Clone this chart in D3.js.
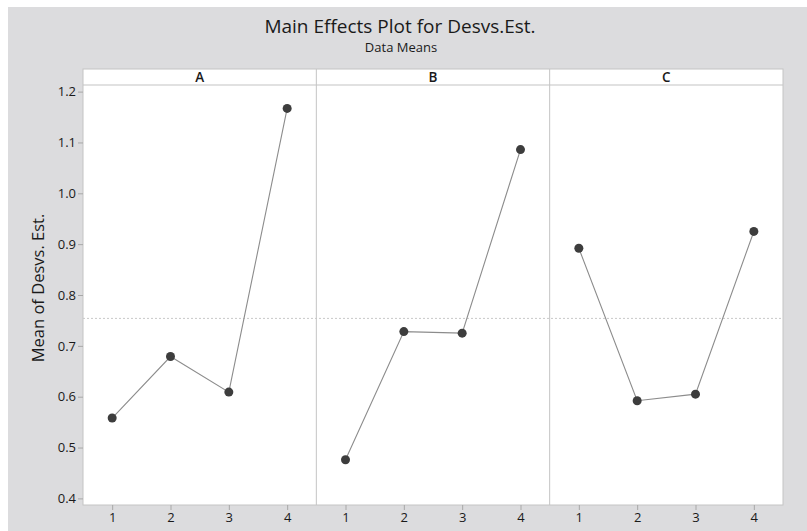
<!DOCTYPE html>
<html>
<head>
<meta charset="utf-8">
<script src="https://cdn.jsdelivr.net/npm/d3@7"></script>
<style>
  body { margin: 0; background: #fff; }
  text { font-family: "Open Sans", "DejaVu Sans", sans-serif; fill: #1a1a1a; }
</style>
</head>
<body>
<script>
// factors and their level means
var factors = ["A", "B", "C"];
var levels = [1, 2, 3, 4];
var meansA = [0.558, 0.679, 0.609, 1.167];
var meansB = [0.476, 0.728, 0.725, 1.086];
var meansC = [0.892, 0.592, 0.605, 0.925];
var yTicks = [0.4, 0.5, 0.6, 0.7, 0.8, 0.9, 1.0, 1.1, 1.2];
var grandMean = 0.754;

var allMeans = [meansA, meansB, meansC];

var W = 807, H = 531;
// note: "top" is taken by window.top, so plotTop
var plotLeft = 83, plotRight = 783, stripTop = 69, plotTop = 85, plotBottom = 505;
var panelW = (plotRight - plotLeft) / factors.length;

var svg = d3.select("body").append("svg").attr("width", W).attr("height", H);

// gray background with a thin white border on top/left
svg.append("rect").attr("x", 8).attr("y", 7).attr("width", W - 8).attr("height", H - 7).attr("fill", "#dcdcde");

// titles
svg.append("text")
    .attr("x", 400).attr("y", 33)
    .attr("text-anchor", "middle")
    .attr("font-size", 19)
    .text("Main Effects Plot for Desvs.Est.");
svg.append("text")
    .attr("x", 401).attr("y", 52)
    .attr("text-anchor", "middle")
    .attr("font-size", 13)
    .text("Data Means");

var y = d3.scaleLinear().domain([0.387, 1.213]).range([plotBottom, plotTop]);

// panel area (strip + plot)
svg.append("rect")
    .attr("x", plotLeft).attr("y", stripTop)
    .attr("width", plotRight - plotLeft).attr("height", plotBottom - stripTop)
    .attr("fill", "#fff").attr("stroke", "#c4c4c4").attr("stroke-width", 1);

svg.append("line")
    .attr("x1", plotLeft).attr("x2", plotRight)
    .attr("y1", plotTop).attr("y2", plotTop)
    .attr("stroke", "#c4c4c4").attr("stroke-width", 1.2);

// y axis
var yAxis = d3.axisLeft(y).tickValues(yTicks).tickSize(5).tickFormat(d3.format(".1f"));
var gy = svg.append("g").attr("transform", "translate(" + plotLeft + ",0)").call(yAxis);
gy.select(".domain").remove();
gy.selectAll(".tick line").attr("stroke", "#a8a8a8");
gy.selectAll(".tick text")
    .attr("font-size", 13)
    .attr("font-family", "'Open Sans', sans-serif")
    .attr("fill", "#1a1a1a")
    .attr("x", -7);

svg.append("text")
    .attr("transform", "translate(44,288) rotate(-90)")
    .attr("text-anchor", "middle")
    .attr("font-size", 16.5)
    .text("Mean of Desvs. Est.");

// reference line at grand mean
svg.append("line")
    .attr("x1", plotLeft).attr("x2", plotRight)
    .attr("y1", y(grandMean)).attr("y2", y(grandMean))
    .attr("stroke", "#c8c8c8").attr("stroke-width", 1)
    .attr("stroke-dasharray", "2,2");

factors.forEach(function(f, i) {
    var x0 = plotLeft + i * panelW;
    var x = d3.scaleLinear().domain([0.5, 4.5]).range([x0, x0 + panelW]);

    if (i > 0) {
        svg.append("line")
            .attr("x1", x0).attr("x2", x0)
            .attr("y1", stripTop).attr("y2", plotBottom)
            .attr("stroke", "#c4c4c4").attr("stroke-width", 1);
    }

    // strip label
    svg.append("text")
        .attr("x", x0 + panelW / 2).attr("y", 82)
        .attr("text-anchor", "middle")
        .attr("font-size", 13.5)
        .attr("font-weight", 600)
        .text(f);

    // x axis
    var xAxis = d3.axisBottom(x).tickValues(levels).tickSize(5).tickFormat(d3.format("d"));
    var gx = svg.append("g").attr("transform", "translate(0," + plotBottom + ")").call(xAxis);
    gx.select(".domain").remove();
    gx.selectAll(".tick line").attr("stroke", "#a8a8a8");
    gx.selectAll(".tick text")
        .attr("font-size", 13)
        .attr("font-family", "'Open Sans', sans-serif")
        .attr("fill", "#1a1a1a")
        .attr("y", 8);

    var pts = levels.map(function(l, j) { return [l, allMeans[i][j]]; });

    svg.append("path")
        .datum(pts)
        .attr("fill", "none")
        .attr("stroke", "#8c8c8c")
        .attr("stroke-width", 1.1)
        .attr("d", d3.line().x(function(d) { return x(d[0]); }).y(function(d) { return y(d[1]); }));

    svg.selectAll("circle.f" + f)
        .data(pts)
        .enter().append("circle")
        .attr("class", "f" + f)
        .attr("cx", function(d) { return x(d[0]); })
        .attr("cy", function(d) { return y(d[1]); })
        .attr("r", 4.5)
        .attr("fill", "#3d3d3d");
});
</script>
</body>
</html>
